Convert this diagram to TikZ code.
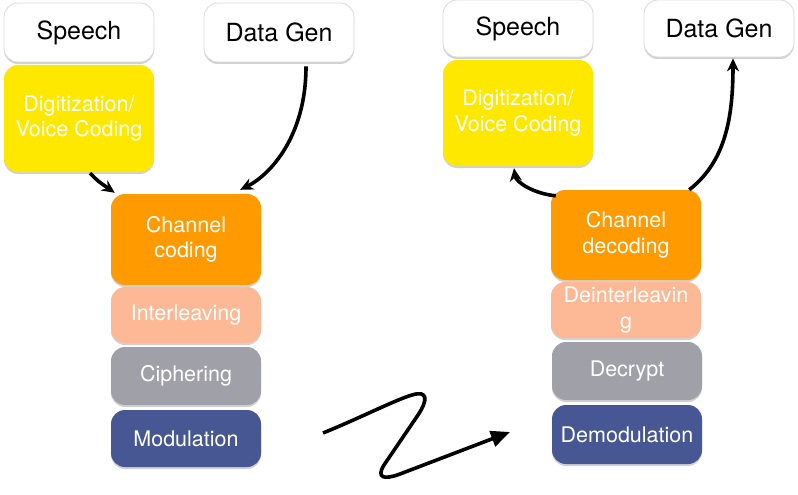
\documentclass[tikz,border=0pt]{standalone}
\usepackage{fontspec}
\setmainfont{TeX Gyre Heros}
\usetikzlibrary{shadows,arrows.meta}
\definecolor{cyel}{HTML}{FFE800}
\definecolor{corg}{HTML}{FF9A00}
\definecolor{cpch}{HTML}{FDB995}
\definecolor{cgry}{HTML}{A0A0A8}
\definecolor{cnav}{HTML}{475794}
\definecolor{cbrd}{HTML}{DADADA}
\tikzset{
  box/.style={rounded corners=14pt, minimum width=150pt, align=center, inner sep=2pt,
    drop shadow={shadow xshift=0pt, shadow yshift=-2pt, fill=black, opacity=0.18}},
  wbox/.style={box, fill=white, draw=cbrd, line width=0.8pt, text=black, font=\fontsize{25}{29}\selectfont},
  cbox/.style={box, text=white, font=\fontsize{21.5}{25.5}\selectfont},
  conn/.style={line width=3.6pt, -{Stealth[length=13pt,width=12pt]}},
}
\begin{document}
\begin{tikzpicture}[x=1pt,y=-1pt]
\useasboundingbox (0,0) rectangle (798,495);
% left
\node[wbox, minimum height=59pt] (speechL) at (79,32.5) {Speech};
\node[wbox, minimum height=59pt] (dataL) at (279,32.5) {Data Gen};
\node[cbox, fill=cyel, minimum height=107pt] (digL) at (79,118.5) {Digitization/\\Voice Coding};
\node[cbox, fill=corg, minimum height=91pt] (chanL) at (186,239.5) {Channel\\coding};
\node[cbox, fill=cpch, minimum height=56pt] (intL) at (186,315) {Interleaving};
\node[cbox, fill=cgry, minimum height=58pt] (ciphL) at (186,376) {Ciphering};
\node[cbox, fill=cnav, minimum height=57pt] (modL) at (186,438.5) {Modulation};
% right
\node[wbox, minimum height=57pt] (speechR) at (518,28.5) {Speech};
\node[wbox, minimum height=57pt] (dataR) at (719,28.5) {Data Gen};
\node[cbox, fill=cyel, minimum height=106pt] (digR) at (518,113) {Digitization/\\Voice Coding};
\node[cbox, fill=corg, minimum height=90pt] (chanR) at (626,235) {Channel\\decoding};
\node[cbox, fill=cpch, minimum height=56pt] (deintR) at (626,310) {Deinterleavin\\g};
\node[cbox, fill=cgry, minimum height=58pt] (decR) at (627,371) {Decrypt};
\node[cbox, fill=cnav, minimum height=59pt] (demodR) at (627,434.5) {Demodulation};
% connectors
\coordinate (a1) at ([xshift=11pt,yshift=-1pt]digL.south);
\coordinate (a2) at ([xshift=4pt,yshift=1pt]chanL.north west);
\draw[conn] (a1) .. controls ([xshift=8pt,yshift=-8pt]a1) .. (a2);
\coordinate (b1) at ([xshift=27pt,yshift=-4pt]dataL.south);
\coordinate (b2) at ([xshift=-21pt,yshift=4pt]chanL.north east);
\draw[conn] (b1) .. controls ([yshift=-70pt]b1) and ([xshift=30pt,yshift=15pt]b2) .. (b2);
\coordinate (c1) at ([xshift=5pt,yshift=-6pt]chanR.north west);
\coordinate (c2) at ([xshift=-4pt,yshift=-2pt]digR.south);
\draw[conn] (c1) .. controls ([xshift=-22pt,yshift=2pt]c1) and ([xshift=2pt,yshift=-14pt]c2) .. (c2);
\coordinate (d1) at ([xshift=-12pt]chanR.north east);
\coordinate (d2) at ([xshift=14pt,yshift=-1pt]dataR.south);
\draw[conn] (d1) .. controls ([xshift=36pt,yshift=28pt]d1) and ([yshift=-60pt]d2) .. (d2);
% zigzag channel
\coordinate (z0) at (323,433);
\coordinate (z3) at (510,432);
\draw[line width=3.6pt, -{Triangle[length=19pt,width=16pt]}]
  (z0) .. controls (360,418) and (395,400) .. (412,395)
       .. controls (428,390) and (428,400) .. (418,415)
       -- (384,465)
       .. controls (376,478) and (384,480) .. (400,474)
       -- (z3);
\end{tikzpicture}
\end{document}
